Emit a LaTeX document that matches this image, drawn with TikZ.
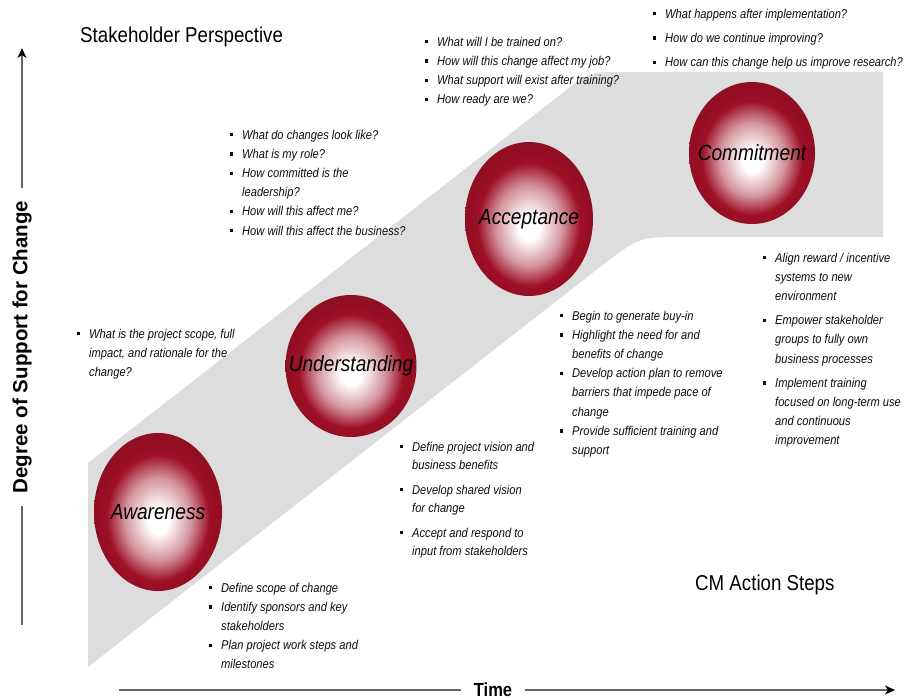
\documentclass[tikz,border=0pt]{standalone}
\usepackage{fontspec}
\setmainfont{Liberation Sans}[FakeStretch=0.87]
\newfontfamily\axisfont{Liberation Sans}
\usetikzlibrary{shapes.geometric,arrows.meta}
\definecolor{spherered}{RGB}{158,16,38}
\colorlet{spherepink}{spherered!45}
\colorlet{spheredeep}{spherered!92!black}
\definecolor{bandgray}{RGB}{221,221,221}
\pgfdeclareradialshading{sphereshade}{\pgfpoint{0bp}{-3bp}}{color(0bp)=(white); color(4bp)=(white); color(13bp)=(spherepink); color(20bp)=(spherered); color(25bp)=(spheredeep); color(50bp)=(spheredeep)}
\def\bul{\makebox[12pt][l]{\rule[2.6pt]{3.2pt}{3.2pt}}}
\def\ind{\hspace*{12pt}}

\begin{document}
\begin{tikzpicture}[x=1pt,y=-1pt,
  sphere/.style={ellipse, shading=sphereshade, inner sep=0pt, label={[font=\fontsize{22}{26}\selectfont\itshape]center:#1}},
  bullets/.style={anchor=north west, align=left, inner sep=0pt, text=black!95, font=\fontsize{12.8}{19.2}\selectfont\itshape},
  heading/.style={anchor=base west, inner sep=0pt, font=\fontsize{21.5}{24}\selectfont},
  axisline/.style={black!60, line width=1.3pt},
  axisarrow/.style={-{Stealth[length=10pt,width=9pt,inset=3pt,black]}}]
  %%%%% START %%%%%
  \useasboundingbox (0,0) rectangle (908,700);

  % grey band
  \fill[bandgray] (88,463) -- (560,95) .. controls (589,72) .. (625,72) -- (883,72)
    -- (883,237) -- (680,237) .. controls (639,237) .. (600,267) -- (88,667) -- cycle;

  % stages
  \node[sphere=Awareness, minimum width=128pt, minimum height=158pt] (aware) at (158,512) {};
  \node[sphere=Understanding, minimum width=131pt, minimum height=142pt] (under) at (351,366) {};
  \node[sphere=Acceptance, minimum width=128pt, minimum height=154pt] (accept) at (529,219) {};
  \node[sphere=Commitment, minimum width=126pt, minimum height=142pt] (commit) at (752,153) {};

  \node[heading] (stake) at (80,43) {Stakeholder Perspective};
  \node[heading] (steps) at (695,590) {CM Action Steps};

  % stakeholder questions
  \node[bullets] (qaware) at (77,328.6) {\bul What is the project scope, full\\ \ind impact, and rationale for the\\ \ind change?};
  \node[bullets] (qunder) at (230,129.6) {\bul What do changes look like?\\ \bul What is my role?\\ \bul How committed is the\\ \ind leadership?\\ \bul How will this affect me?\\ \bul How will this affect the business?};
  \node[bullets] (qaccept) at (425,36.6) {\bul What will I be trained on?\\ \bul How will this change affect my job?\\ \bul What support will exist after training?\\ \bul How ready are we?};
  \node[bullets] (qcommit) at (653,8.6) {\bul What happens after implementation?\\[5pt] \bul How do we continue improving?\\[5pt] \bul How can this change help us improve research?};

  % action steps
  \node[bullets] (aaware) at (209,582.6) {\bul Define scope of change\\ \bul Identify sponsors and key\\ \ind stakeholders\\ \bul Plan project work steps and\\ \ind milestones};
  \node[bullets, font=\fontsize{12.8}{18.5}\selectfont\itshape] (aunder) at (400,441.6) {\bul Define project vision and\\ \ind business benefits\\[6pt] \bul Develop shared vision\\ \ind for change\\[6pt] \bul Accept and respond to\\ \ind input from stakeholders};
  \node[bullets] (aaccept) at (560,310.6) {\bul Begin to generate buy-in\\ \bul Highlight the need for and\\ \ind benefits of change\\ \bul Develop action plan to remove\\ \ind barriers that impede pace of\\ \ind change\\ \bul Provide sufficient training and\\ \ind support};
  \node[bullets] (acommit) at (763,252.6) {\bul Align reward / incentive\\ \ind systems to new\\ \ind environment\\[5pt] \bul Empower stakeholder\\ \ind groups to fully own\\ \ind business processes\\[5pt] \bul Implement training\\ \ind focused on long-term use\\ \ind and continuous\\ \ind improvement};

  % axes
  \node[rotate=90, inner sep=0pt, inner xsep=12pt, font=\axisfont\bfseries\fontsize{20.5}{24}\selectfont] (ylab) at (22,347) {Degree of Support for Change};
  \coordinate (yfoot) at (22,625);
  \coordinate (ytip) at (22,48);
  \draw[axisline] (yfoot) -- (ylab.west);
  \draw[axisline, axisarrow] (ylab.east) -- (ytip);

  \node[inner sep=0pt, inner xsep=13pt, font=\bfseries\fontsize{19}{22}\selectfont] (time) at (493,690) {Time};
  \coordinate (xfoot) at (119,690);
  \coordinate (xtip) at (895,690);
  \draw[axisline] (xfoot) -- (time.west);
  \draw[axisline, axisarrow] (time.east) -- (xtip);
  %%%%% END %%%%%
\end{tikzpicture}
\end{document}
